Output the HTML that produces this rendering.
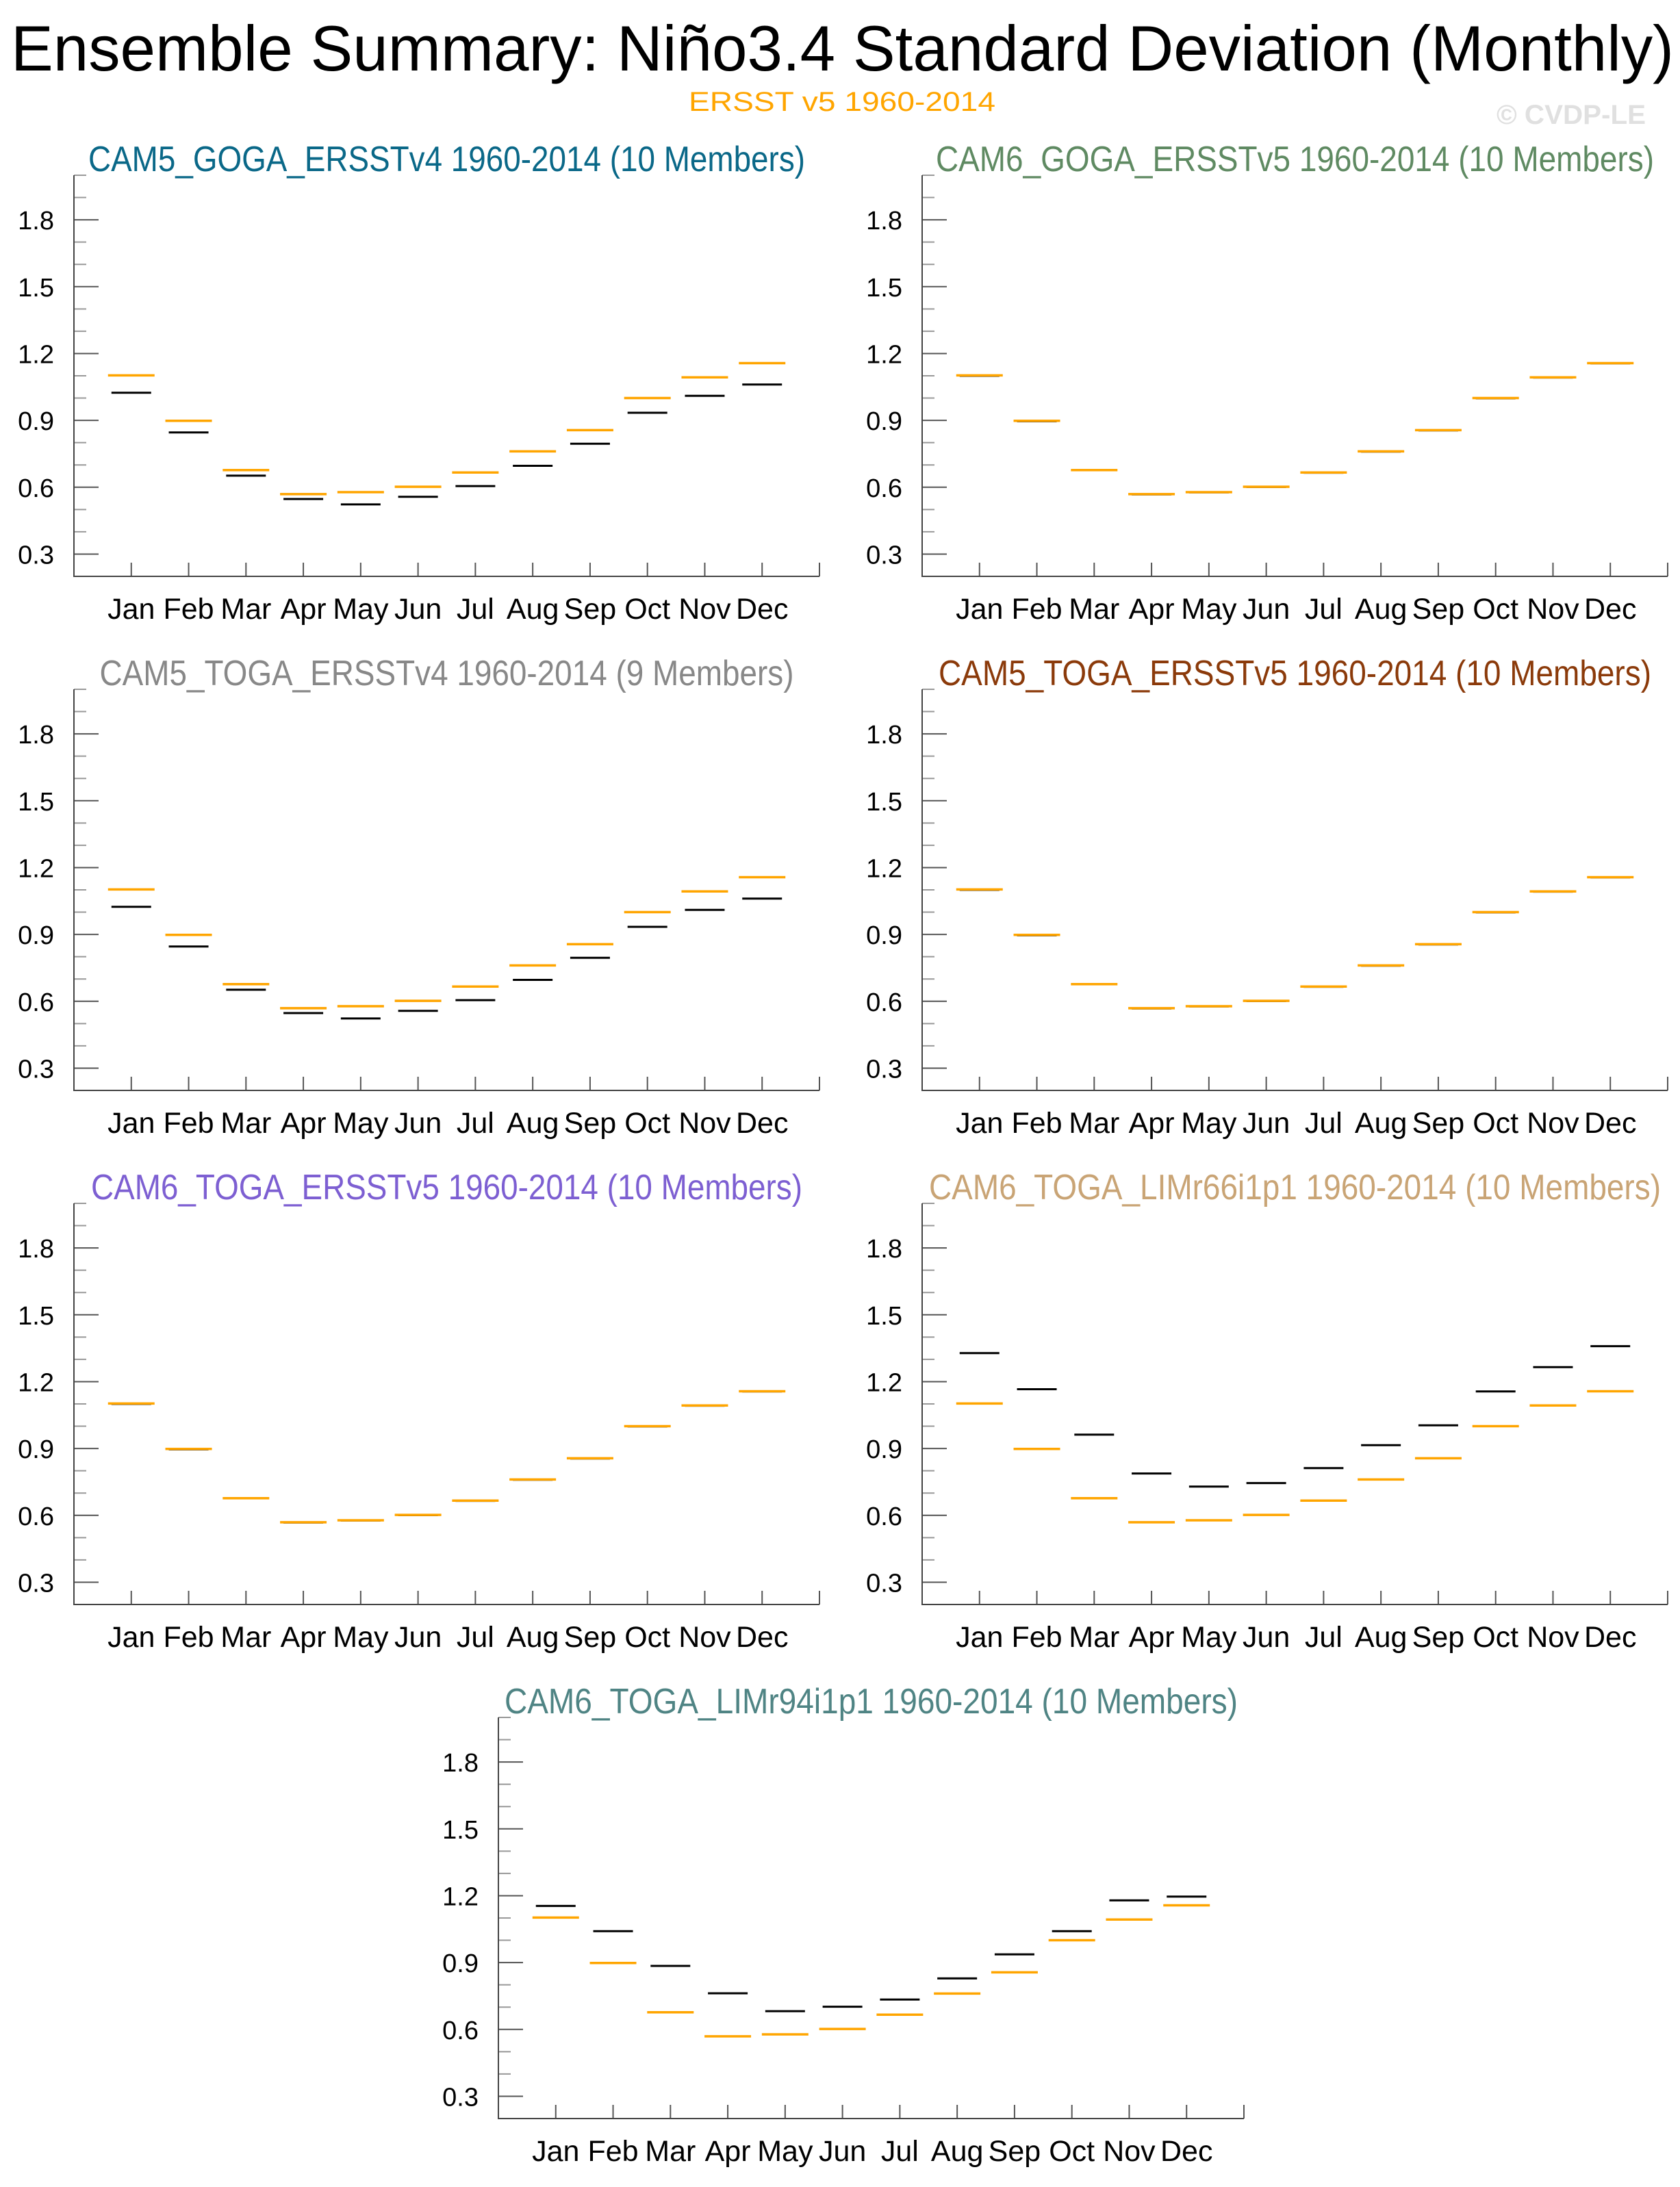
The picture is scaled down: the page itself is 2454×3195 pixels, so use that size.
<!DOCTYPE html>
<html><head><meta charset="utf-8"><title>Ensemble Summary: Niño3.4 Standard Deviation (Monthly)</title>
<style>html,body{margin:0;padding:0;background:#fff}svg{display:block}</style></head>
<body>
<svg id="chart" xmlns="http://www.w3.org/2000/svg" width="2454" height="3195" viewBox="0 0 2454 3195" font-family="'Liberation Sans', 'DejaVu Sans', sans-serif">
<rect x="0" y="0" width="2454" height="3195" fill="#fff"/>
<text x="16" y="103" font-size="94" textLength="2429" lengthAdjust="spacingAndGlyphs" fill="#000">Ensemble Summary: Niño3.4 Standard Deviation (Monthly)</text>
<text x="1230" y="162" font-size="40" text-anchor="middle" textLength="448" lengthAdjust="spacingAndGlyphs" fill="#ffa500">ERSST v5 1960-2014</text>
<text x="2186" y="181" font-size="40" font-weight="bold" textLength="218" lengthAdjust="spacingAndGlyphs" fill="#e0e0e0">© CVDP-LE</text>
<g id="panels"></g>
</svg>
<script>
const months = ["Jan","Feb","Mar","Apr","May","Jun","Jul","Aug","Sep","Oct","Nov","Dec"];
const yTicks = [0.3,0.6,0.9,1.2,1.5,1.8];
const yTickLabels = ["0.3","0.6","0.9","1.2","1.5","1.8"];
const obsValues = [1.102,0.898,0.677,0.569,0.578,0.602,0.666,0.761,0.856,1.000,1.093,1.157];
const ensCam5GogaV4 = [1.024,0.846,0.652,0.547,0.523,0.557,0.605,0.696,0.795,0.934,1.010,1.061];
const ensCam6GogaV5 = [1.100,0.896,0.676,0.568,0.577,0.601,0.665,0.760,0.855,0.999,1.092,1.156];
const ensCam5TogaV4 = [1.024,0.846,0.652,0.547,0.523,0.557,0.605,0.696,0.795,0.934,1.010,1.061];
const ensCam5TogaV5 = [1.100,0.896,0.676,0.568,0.577,0.601,0.665,0.760,0.855,0.999,1.092,1.156];
const ensCam6TogaV5 = [1.100,0.896,0.676,0.568,0.577,0.601,0.665,0.760,0.855,0.999,1.092,1.156];
const ensCam6TogaLim66 = [1.328,1.166,0.962,0.788,0.729,0.745,0.812,0.915,1.004,1.156,1.265,1.359];
const ensCam6TogaLim94 = [1.154,1.041,0.885,0.762,0.682,0.702,0.734,0.829,0.937,1.041,1.179,1.196];
const panelTitles = ["CAM5_GOGA_ERSSTv4 1960-2014 (10 Members)","CAM6_GOGA_ERSSTv5 1960-2014 (10 Members)","CAM5_TOGA_ERSSTv4 1960-2014 (9 Members)","CAM5_TOGA_ERSSTv5 1960-2014 (10 Members)","CAM6_TOGA_ERSSTv5 1960-2014 (10 Members)","CAM6_TOGA_LIMr66i1p1 1960-2014 (10 Members)","CAM6_TOGA_LIMr94i1p1 1960-2014 (10 Members)"];
const ensembles = [ensCam5GogaV4, ensCam6GogaV5, ensCam5TogaV4, ensCam5TogaV5, ensCam6TogaV5, ensCam6TogaLim66, ensCam6TogaLim94];

const NS = "http://www.w3.org/2000/svg";
const layout = [
  {x:108,y:256,c:"#0a6888",tl:1047},
  {x:1347,y:256,c:"#5f8a62",tl:1049},
  {x:108,y:1007,c:"#888888",tl:1014},
  {x:1347,y:1007,c:"#8b3a0a",tl:1041},
  {x:108,y:1758,c:"#7d5fd2",tl:1039},
  {x:1347,y:1758,c:"#c9a475",tl:1069},
  {x:728,y:2509,c:"#4f8484",tl:1071}
];
const W = 1089, H = 586, YMIN = 0.2, YMAX = 2.0, XMAX = 13;
function mk(tag, attrs, parent){const e=document.createElementNS(NS,tag);for(const k in attrs)e.setAttribute(k,attrs[k]);parent.appendChild(e);return e;}
const root = document.getElementById("panels");
layout.forEach((p, i) => {
  const sx = v => p.x + v / XMAX * W;
  const sy = v => p.y + H - (v - YMIN) / (YMAX - YMIN) * H;
  const g = mk("g", {}, root);
  
  
  const t = mk("text", {x: p.x + W/2, y: p.y - 6, "font-size": 52, "text-anchor": "middle", fill: p.c, textLength: p.tl, lengthAdjust: "spacingAndGlyphs"}, g);
  t.textContent = panelTitles[i];
  
  
  for (let k = 3; k <= 20; k++) {
    const v = k / 10;
    const major = yTicks.some(q => Math.abs(q - v) < 1e-6);
    const tk = mk("line", {x1: p.x, x2: p.x + (major ? 36 : 18), y1: sy(v), y2: sy(v), stroke: major ? "#555" : "#999", "stroke-width": 2}, g);
    
    
  }
  yTicks.forEach((v, j) => {
    const lb = mk("text", {x: p.x - 29, y: sy(v) + 14, "font-size": 38, "text-anchor": "end", fill: "#000"}, g);
    lb.textContent = yTickLabels[j];
    
    
  });
  for (let m = 1; m <= 13; m++) {
    const tk = mk("line", {x1: sx(m), x2: sx(m), y1: p.y + H, y2: p.y + H - 20, stroke: "#555", "stroke-width": 2}, g);
    
    
  }
  months.forEach((m, j) => {
    const lb = mk("text", {x: sx(j + 1), y: p.y + H + 62, "font-size": 43, "text-anchor": "middle", fill: "#000"}, g);
    lb.textContent = m;
    
    
  });
  const ax = mk("path", {d: `M${p.x} ${p.y} V${p.y + H} H${p.x + W}`, fill: "none", stroke: "#444", "stroke-width": 2}, g);
  
  
  ensembles[i].forEach((v, j) => {
    const ln = mk("line", {x1: sx(j + 1) - 29, x2: sx(j + 1) + 29, y1: sy(v), y2: sy(v), stroke: "#000", "stroke-width": 3}, g);
    
    
  });
  obsValues.forEach((v, j) => {
    const ln = mk("line", {x1: sx(j + 1) - 34, x2: sx(j + 1) + 34, y1: sy(v), y2: sy(v), stroke: "#ffa500", "stroke-width": 3.5}, g);
    
    
  });
});
</script>
</body></html>
